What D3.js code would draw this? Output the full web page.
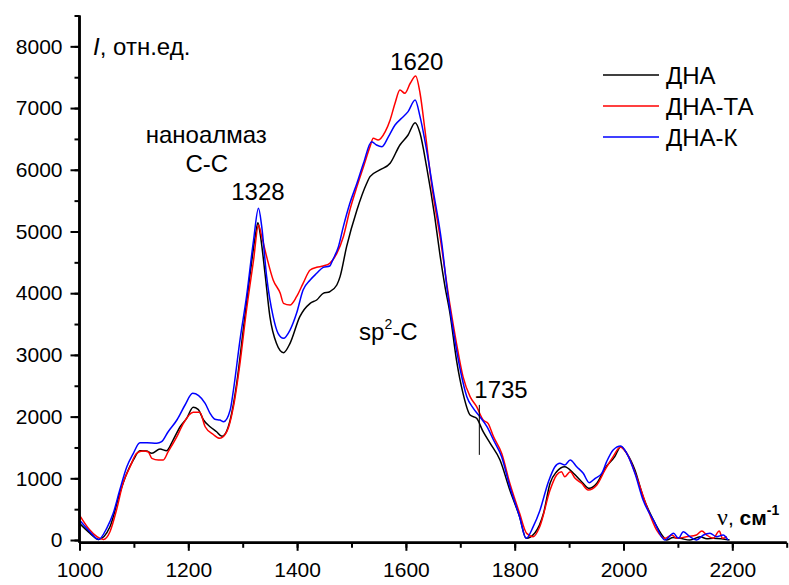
<!DOCTYPE html>
<html>
<head>
<meta charset="utf-8">
<script src="https://cdn.jsdelivr.net/npm/d3@7"></script>
<style>
  body { margin: 0; background: #fff; }
  svg { display: block; font-family: "Liberation Sans", Arial, sans-serif; }
</style>
</head>
<body>
<svg id="chart" width="789" height="585"></svg>
<script>
// spectra: [wavenumber, intensity]
const dna = [
  [1000,270],[1019,113],[1035,10],[1056,215],[1074,757],[1087,1081],[1099,1297],[1111,1447],[1123,1442],
  [1133,1405],[1148,1475],[1160,1447],[1172,1620],[1185,1836],[1197,1972],[1209,2150],[1218,2118],[1228,1945],
  [1240,1836],[1252,1755],[1262,1680],[1277,1945],[1289,2540],[1301,3403],[1313,4268],[1323,4916],[1328,5143],
  [1332,4971],[1341,4322],[1350,3620],[1362,3188],[1375,3036],[1387,3188],[1405,3620],[1424,3836],[1436,3890],
  [1448,3998],[1460,4024],[1473,4133],[1479,4268],[1491,4754],[1510,5348],[1528,5781],[1534,5888],[1552,5997],
  [1571,6105],[1589,6402],[1604,6564],[1617,6763],[1626,6591],[1638,6050],[1653,5240],[1663,4600],[1672,4100],
  [1681,3674],[1693,2917],[1705,2377],[1718,2026],[1730,1972],[1742,1755],[1755,1567],[1773,1297],[1791,810],
  [1809,378],[1821,27],[1837,113],[1853,433],[1865,919],[1877,1107],[1892,1188],[1908,1081],[1923,945],
  [1937,837],[1951,919],[1966,1162],[1984,1351],[1995,1513],[2006,1405],[2021,1135],[2036,702],[2055,324],
  [2073,54],[2079,0],[2091,40],[2104,27],[2122,0],[2141,54],[2153,20],[2165,30],[2180,20],[2195,0]
];
const dnaTA = [
  [1000,405],[1019,162],[1032,54],[1044,10],[1056,135],[1068,486],[1080,919],[1093,1188],[1105,1405],
  [1117,1442],[1126,1431],[1133,1324],[1145,1297],[1154,1297],[1163,1431],[1179,1675],[1191,1891],[1209,2070],
  [1221,2070],[1231,1836],[1246,1710],[1258,1648],[1271,1760],[1283,2161],[1295,2864],[1307,3728],[1320,4538],
  [1329,5105],[1335,4916],[1344,4592],[1356,4214],[1369,3998],[1375,3836],[1387,3809],[1399,3943],[1411,4160],
  [1424,4376],[1436,4419],[1448,4441],[1460,4484],[1473,4646],[1485,4916],[1497,5348],[1510,5727],[1522,6050],
  [1534,6375],[1540,6510],[1549,6483],[1562,6618],[1571,6807],[1580,7078],[1589,7293],[1598,7240],[1608,7402],
  [1618,7520],[1626,7240],[1635,6645],[1647,5781],[1663,4900],[1681,3810],[1693,3188],[1705,2647],[1718,2323],
  [1730,2161],[1742,1945],[1751,1891],[1761,1675],[1776,1405],[1791,919],[1809,433],[1822,108],[1834,54],
  [1846,216],[1865,810],[1877,1053],[1886,1107],[1892,1026],[1902,1107],[1911,1000],[1923,919],[1935,810],
  [1951,891],[1966,1135],[1981,1351],[1994,1502],[2006,1405],[2024,1026],[2043,540],[2061,162],[2076,27],
  [2089,81],[2098,27],[2116,54],[2134,81],[2144,146],[2153,81],[2165,27],[2176,146],[2182,27],[2190,54]
];
const dnaK = [
  [1000,324],[1019,135],[1035,10],[1050,189],[1062,432],[1074,810],[1087,1188],[1099,1405],[1111,1577],
  [1124,1577],[1142,1567],[1151,1593],[1163,1755],[1179,1945],[1194,2188],[1208,2377],[1219,2340],[1231,2215],
  [1240,2053],[1249,1956],[1258,1945],[1265,1918],[1277,2107],[1283,2431],[1295,3241],[1307,3943],[1320,4862],
  [1329,5376],[1335,5078],[1344,4268],[1356,3620],[1365,3350],[1375,3269],[1387,3403],[1399,3674],[1411,4052],
  [1424,4214],[1436,4322],[1448,4419],[1460,4441],[1466,4549],[1476,4754],[1485,5078],[1497,5457],[1510,5781],
  [1522,6105],[1537,6456],[1546,6402],[1556,6375],[1568,6537],[1580,6726],[1592,6834],[1604,6942],[1617,7131],
  [1626,6861],[1638,6321],[1650,5673],[1666,4808],[1676,4050],[1687,3403],[1700,2755],[1712,2323],[1724,2134],
  [1736,1998],[1749,1836],[1761,1621],[1776,1350],[1791,864],[1809,378],[1821,27],[1834,216],[1846,470],
  [1862,945],[1874,1188],[1883,1243],[1892,1216],[1902,1297],[1914,1188],[1926,1081],[1937,929],[1948,1000],
  [1960,1081],[1969,1270],[1981,1459],[1995,1524],[2006,1405],[2021,1081],[2036,648],[2055,324],[2076,0],
  [2092,108],[2101,27],[2110,135],[2122,54],[2134,0],[2147,81],[2159,108],[2171,54],[2183,81],[2192,0]
];

const seriesNames = ["ДНА", "ДНА-ТА", "ДНА-К"];
const seriesColors = ["#000000", "#ff0000", "#0000ff"];
const xTicks = d3.range(1000, 2201, 200);
const xMinor = d3.range(1000, 2301, 100);
const yTicks = d3.range(0, 8001, 1000);
const yMinor = d3.range(0, 8501, 500);

const svg = d3.select("#chart");
svg.append("rect").attr("width", 789).attr("height", 585).attr("fill", "#fff");

const x = d3.scaleLinear().domain([1000, 2300]).range([79.5, 786.7]);
const y = d3.scaleLinear().domain([-45, 8500]).range([542.8, 15.5]);

// curves
const line = d3.line().x((d) => x(d[0])).y((d) => y(d[1])).curve(d3.curveMonotoneX);
[dna, dnaTA, dnaK].forEach((s, i) => {
  svg.append("path")
    .attr("d", line(s))
    .attr("fill", "none")
    .attr("stroke", seriesColors[i])
    .attr("stroke-width", 1.5)
    .attr("stroke-linejoin", "round");
});

// axes
const gx = svg.append("g").attr("transform", `translate(0,${y(-45)})`);
gx.call(d3.axisBottom(x).tickValues(xMinor).tickSize(5).tickFormat(""));
gx.call((g) => g.append("g").call(d3.axisBottom(x).tickValues(xTicks).tickSize(8).tickFormat(d3.format("d"))));
gx.selectAll("path.domain").attr("stroke", "#000").attr("stroke-width", 2.5).attr("d", `M${x(1000)},0H${x(2300)}`);
gx.selectAll("line").attr("stroke", "#000").attr("stroke-width", 2);
gx.selectAll("text").attr("fill", "#000").attr("font-size", 21).attr("font-family", "Liberation Sans, Arial, sans-serif")
  .attr("y", 0).attr("dy", null).attr("transform", "translate(0,34)");

const gy = svg.append("g").attr("transform", `translate(${x(1000)},0)`);
gy.call(d3.axisLeft(y).tickValues(yMinor).tickSize(5).tickFormat(""));
gy.call((g) => g.append("g").call(d3.axisLeft(y).tickValues(yTicks).tickSize(9).tickFormat(d3.format("d"))));
gy.selectAll("path.domain").attr("stroke", "#000").attr("stroke-width", 2.5).attr("d", `M0,${y(-45)}V${y(8500)}`);
gy.selectAll("line").attr("stroke", "#000").attr("stroke-width", 2);
gy.selectAll("text").attr("fill", "#000").attr("font-size", 21).attr("font-family", "Liberation Sans, Arial, sans-serif")
  .attr("x", -17);

// annotations
const ann = svg.append("g").attr("font-size", 24).attr("fill", "#000");
const yLabel = ann.append("text").attr("x", x(1025)).attr("y", y(7860));
yLabel.append("tspan").attr("font-style", "italic").text("I");
yLabel.append("tspan").text(", отн.ед.");
ann.append("text").attr("x", x(1233)).attr("y", y(6434)).attr("text-anchor", "middle").text("наноалмаз");
ann.append("text").attr("x", x(1234)).attr("y", y(5964)).attr("text-anchor", "middle").text("С-С");
ann.append("text").attr("x", x(1328)).attr("y", y(5510)).attr("text-anchor", "middle").text("1328");
ann.append("text").attr("x", x(1620)).attr("y", y(7617)).attr("text-anchor", "middle").text("1620");
const sp = ann.append("text").attr("x", x(1514)).attr("y", y(3241));
sp.append("tspan").text("sp");
sp.append("tspan").attr("font-size", 14).attr("dy", -11).text("2");
sp.append("tspan").attr("dy", 11).text("-C");
ann.append("text").attr("x", x(1735) - 5).attr("y", y(2301)).text("1735");
ann.append("line")
  .attr("x1", x(1735)).attr("x2", x(1735))
  .attr("y1", y(2190)).attr("y2", y(1380))
  .attr("stroke", "#000").attr("stroke-width", 1);

const nu = svg.append("text").attr("x", x(2172)).attr("y", y(243)).attr("font-size", 21).attr("fill", "#000");
nu.append("tspan").attr("font-family", "Liberation Serif, Times New Roman, serif").attr("font-size", 24).text("ν");
nu.append("tspan").text(", ");
nu.append("tspan").attr("font-weight", "bold").text("см");
nu.append("tspan").attr("font-size", 14).attr("font-weight", "bold").attr("dy", -10).text("-1");

// legend
const legend = svg.append("g").attr("transform", "translate(603,75)");
seriesNames.forEach((name, i) => {
  const row = legend.append("g").attr("transform", `translate(0,${i * 31})`);
  row.append("line").attr("x1", 0).attr("x2", 56).attr("y1", 0).attr("y2", 0)
    .attr("stroke", seriesColors[i]).attr("stroke-width", 1.5);
  row.append("text").attr("x", 63).attr("y", 0).attr("dy", "0.37em")
    .attr("font-size", 24).attr("fill", "#000").text(name);
});
</script>
</body>
</html>
